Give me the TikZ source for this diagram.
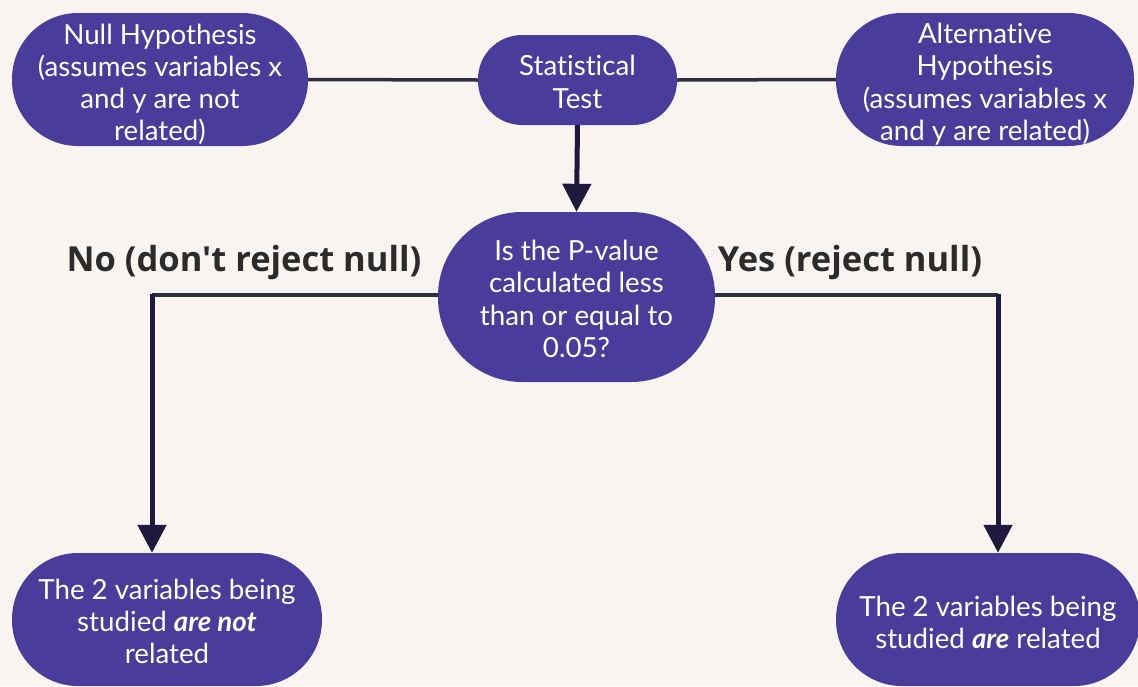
\documentclass[tikz,border=0pt]{standalone}
\usepackage{fontspec}
\setmainfont{Lato}[Ligatures={NoCommon}]
\newfontfamily\labelfont{Open Sans}
\usetikzlibrary{arrows.meta}
\definecolor{bg}{HTML}{F9F4F0}
\definecolor{pillfill}{HTML}{4A3C9B}
\definecolor{wire}{HTML}{2D2F40}
\definecolor{arrowc}{HTML}{1F1A3D}
\definecolor{labelc}{HTML}{2B2B2B}
% a tall strut on the first line sets a text block a little lower in its pill
\newcommand{\tallstrut}[1][30pt]{\rule{0pt}{#1}}
\begin{document}
\begin{tikzpicture}[x=1pt,y=-1pt,
  pill/.style={fill=pillfill, text=white, font=\fontsize{27.7}{32.3}\selectfont,
    align=center, inner sep=0pt},
  wireline/.style={draw=wire, line width=3.5pt},
  arr/.style={draw=arrowc, line width=5pt, -{Triangle[width=28pt,length=28pt]}},
  lbl/.style={text=labelc, font=\labelfont\bfseries\fontsize{34.5}{40}\selectfont, inner sep=0pt}]
\fill[bg] (0,0) rectangle (1138,686);
\clip (0,0) rectangle (1138,686);

% hypotheses and the test
\node[pill, minimum width=296pt, minimum height=133pt, rounded corners=66pt] (null) at (160,79.5)
  {\tallstrut Null Hypothesis\\(assumes variables x\\and y are not\\related)};
\node[pill, minimum width=199pt, minimum height=90pt, rounded corners=44pt] (st) at (577.5,80)
  {\tallstrut[24.5pt]Statistical\\Test};
\node[pill, minimum width=298pt, minimum height=133pt, rounded corners=66pt] (alt) at (985,79.5)
  {\tallstrut Alternative\\Hypothesis\\(assumes variables x\\and y are related)};

% decision
\node[pill, minimum width=277pt, minimum height=170pt, rounded corners=84pt] (dec) at (576.5,297)
  {\tallstrut[24.5pt]Is the P-value\\calculated less\\than or equal to\\0.05?};

% outcomes
\node[pill, minimum width=310pt, minimum height=133pt, rounded corners=66pt] (nobot) at (167,619.5)
  {\tallstrut[24.5pt]The 2 variables being\\studied \textbf{\textit{are not}}\\related};
\node[pill, minimum width=304pt, minimum height=133pt, rounded corners=66pt] (yesbot) at (988,619.5)
  {\tallstrut[26pt]The 2 variables being\\studied \textbf{\textit{are}} related};

% branch labels
\node[lbl] (nolab) at (244,263) {No (don't reject null)};
\node[lbl] (yeslab) at (850,263) {Yes (reject null)};

% connectors
\draw[wireline] (null.east) -- (st.west);
\draw[wireline] (st.east) -- (alt.west);
\draw[arr] (st.south) -- (dec.north);

\coordinate (nocorner) at (152,295);
\coordinate (yescorner) at (998,295);
\draw[wireline] (dec.west |- nocorner) -- (nocorner);
\draw[wireline] (dec.east |- yescorner) -- (yescorner);
\draw[arr] ([yshift=1.5pt]nocorner) -- (nocorner |- nobot.north);
\draw[arr] ([yshift=1.5pt]yescorner) -- (yescorner |- yesbot.north);
\end{tikzpicture}
\end{document}
